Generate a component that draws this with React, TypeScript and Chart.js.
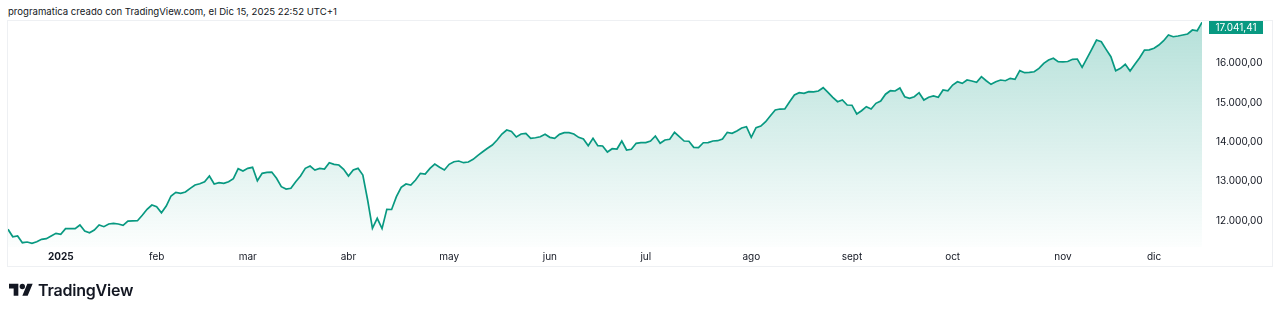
import { useEffect, useRef } from "react";
import { Chart, registerables } from "chart.js";

Chart.register(...registerables);

const FONT = "Inter, 'Noto Sans', Roboto, sans-serif";
const LINE_COLOR = "#089981";
const TEXT_COLOR = "#131722";

const headerText = "programatica creado con TradingView.com, el Dic 15, 2025 22:52 UTC+1";

// Daily closes, Dec 16 2024 -> Dec 15 2025 (index = trading day)
const values: number[] = [
  11781, 11593, 11611, 11441, 11459, 11426, 11466, 11527, 11543, 11611,
  11680, 11654, 11797, 11797, 11800, 11891, 11738, 11695, 11764, 11891,
  11848, 11916, 11934, 11916, 11883, 11992, 11995, 12000, 12137, 12290,
  12399, 12356, 12203, 12374, 12628, 12722, 12696, 12729, 12823, 12907,
  12940, 12991, 13136, 12933, 12966, 12950, 12991, 13067, 13321, 13263,
  13331, 13357, 13016, 13204, 13230, 13237, 13077, 12864, 12805, 12823,
  12991, 13136, 13331, 13390, 13288, 13331, 13314, 13474, 13433, 13415,
  13306, 13136, 13288, 13331, 13161, 12526, 11807, 12061, 11800, 12290,
  12285, 12610, 12849, 12933, 12907, 13034, 13204, 13187, 13331, 13441,
  13357, 13288, 13433, 13499, 13517, 13474, 13492, 13560, 13662, 13753,
  13840, 13924, 14051, 14203, 14305, 14267, 14127, 14203, 14221, 14094,
  14109, 14134, 14195, 14119, 14094, 14195, 14236, 14236, 14203, 14119,
  14076, 13906, 14094, 13906, 13898, 13746, 13830, 13822, 14025, 13797,
  13814, 13967, 13982, 13985, 14025, 14152, 13967, 14051, 14068, 14246,
  14134, 14025, 14020, 13865, 13860, 13982, 13985, 14025, 14033, 14076,
  14246, 14221, 14279, 14356, 14389, 14119, 14363, 14406, 14516, 14668,
  14813, 14838, 14840, 15024, 15194, 15253, 15237, 15278, 15275, 15296,
  15380, 15263, 15136, 15024, 15067, 14940, 14935, 14711, 14795, 14897,
  14838, 14983, 15040, 15215, 15303, 15296, 15372, 15151, 15110, 15151,
  15253, 15067, 15136, 15169, 15136, 15321, 15303, 15448, 15532, 15491,
  15575, 15550, 15517, 15659, 15557, 15466, 15532, 15575, 15557, 15618,
  15593, 15812, 15761, 15771, 15786, 15872, 16000, 16083, 16127, 16040,
  16035, 16045, 16101, 16109, 15898, 16127, 16355, 16592, 16548, 16355,
  16167, 15812, 15872, 15974, 15804, 15974, 16142, 16337, 16340, 16381,
  16464, 16574, 16719, 16675, 16693, 16719, 16744, 16846, 16828, 17041.41,
];

const monthTickIndex = [11, 31, 50, 71, 92, 113, 133, 155, 176, 197, 220, 239];
const monthTickLabels = ["2025", "feb", "mar", "abr", "may", "jun", "jul", "ago", "sept", "oct", "nov", "dic"];
const priceTicks = [12000, 13000, 14000, 15000, 16000];
const yMin = 11332;
const yMax = 17075;

function fmt(v: number): string {
  const [i, d] = v.toFixed(2).split(".");
  return i.replace(/\B(?=(\d{3})+(?!\d))/g, ".") + "," + d;
}

const lastPricePlugin = {
  id: "lastPrice",
  afterDraw(chart: any) {
    const { ctx, chartArea, scales } = chart;
    const last = values[values.length - 1];
    const y = scales.y.getPixelForValue(last);
    const h = 13;
    let top = y - h / 2;
    if (top < chartArea.top) top = chartArea.top;
    if (top + h > chartArea.bottom) top = chartArea.bottom - h;
    const left = chartArea.right + 7;
    const w = 54;
    ctx.save();
    ctx.fillStyle = LINE_COLOR;
    ctx.fillRect(left, top, w, h);
    ctx.fillStyle = "#ffffff";
    ctx.font = `10px ${FONT}`;
    ctx.textAlign = "center";
    ctx.textBaseline = "middle";
    ctx.fillText(fmt(last), left + w / 2, top + h / 2 + 0.5);
    ctx.restore();
  },
};

function PriceChart() {
  const ref = useRef<HTMLCanvasElement | null>(null);
  useEffect(() => {
    if (!ref.current) return;
    const chart = new Chart(ref.current, {
      type: "line",
      data: {
        datasets: [
          {
            label: "programatica",
            data: values.map((v, i) => ({ x: i, y: v })),
            borderColor: LINE_COLOR,
            borderWidth: 1.7,
            pointRadius: 0,
            tension: 0,
            fill: "start",
            backgroundColor: (c: any) => {
              const area = c.chart.chartArea;
              if (!area) return "rgba(8,153,129,0.15)";
              const g = c.chart.ctx.createLinearGradient(0, area.top, 0, area.bottom);
              g.addColorStop(0, "rgba(8,153,129,0.30)");
              g.addColorStop(1, "rgba(8,153,129,0.01)");
              return g;
            },
          },
        ],
      },
      options: {
        animation: false,
        responsive: false,
        maintainAspectRatio: false,
        layout: { padding: { left: 8, top: 21, right: 8, bottom: 48 } },
        plugins: { legend: { display: false }, tooltip: { enabled: false } },
        scales: {
          x: {
            type: "linear",
            min: 0,
            max: values.length - 1,
            grid: { display: false, drawTicks: false },
            border: { display: false },
            afterFit: (s: any) => {
              s.height = 19;
            },
            afterBuildTicks: (s: any) => {
              s.ticks = monthTickIndex.map((v) => ({ value: v }));
            },
            ticks: {
              autoSkip: false,
              maxRotation: 0,
              padding: 4,
              color: TEXT_COLOR,
              font: (c: any) => ({ family: FONT, size: 10, weight: c.index === 0 ? "bold" : "normal" }),
              callback: (_v: any, i: number) => monthTickLabels[i],
            },
          },
          y: {
            type: "linear",
            position: "right",
            min: yMin,
            max: yMax,
            grid: { display: false, drawTicks: false },
            border: { display: false },
            afterFit: (s: any) => {
              s.width = 70;
            },
            afterBuildTicks: (s: any) => {
              s.ticks = priceTicks.map((v) => ({ value: v }));
            },
            ticks: {
              padding: 14,
              color: TEXT_COLOR,
              font: { family: FONT, size: 10 },
              callback: (v: any) => fmt(Number(v)),
            },
          },
        },
      },
      plugins: [lastPricePlugin],
    } as any);
    return () => chart.destroy();
  }, []);
  return (
    <canvas
      ref={ref}
      width={1280}
      height={314}
      style={{ position: "absolute", left: 0, top: 0, width: 1280, height: 314 }}
    />
  );
}

export default function App() {
  return (
    <div
      style={{
        position: "absolute",
        left: 0,
        top: 0,
        width: 1280,
        height: 314,
        background: "#ffffff",
        overflow: "hidden",
        fontFamily: FONT,
      }}
    >
      <div
        style={{
          position: "absolute",
          left: 8,
          top: 5,
          fontSize: 9.6,
          lineHeight: "14px",
          color: TEXT_COLOR,
          whiteSpace: "nowrap",
        }}
      >
        {headerText}
      </div>
      <div
        style={{
          position: "absolute",
          left: 7,
          top: 20,
          width: 1266,
          height: 247,
          border: "1px solid #eef0f3",
          boxSizing: "border-box",
        }}
      />
      <PriceChart />
      <svg
        style={{ position: "absolute", left: 9, top: 281 }}
        width={24}
        height={19}
        viewBox="0 0 36 28"
      >
        <path d="M14 22H7V11H0V4h14v18zM28 22h-8l7.5-18h8L28 22z" fill="#131722" />
        <circle cx="20" cy="8" r="4" fill="#131722" />
      </svg>
      <div
        style={{
          position: "absolute",
          left: 38,
          top: 280,
          fontSize: 16,
          fontWeight: 600,
          lineHeight: "20px",
          color: "#131722",
          letterSpacing: "-0.2px",
          whiteSpace: "nowrap",
        }}
      >
        TradingView
      </div>
    </div>
  );
}
